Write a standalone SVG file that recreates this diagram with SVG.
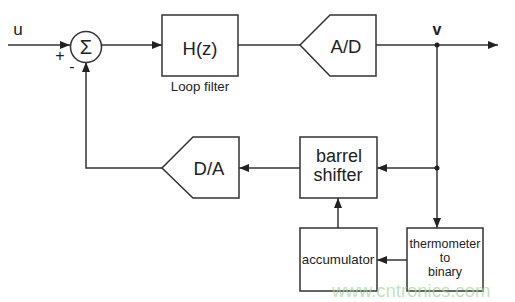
<svg xmlns="http://www.w3.org/2000/svg" width="515" height="302" viewBox="0 0 515 302">
<style>
.s{fill:#fff;stroke:#333;stroke-width:1.5}
.c{fill:none;stroke:#333;stroke-width:1.5}
text{font-family:"Liberation Sans",Arial,sans-serif;fill:#222}
.big{font-size:18.5px;text-anchor:middle}
.sm{font-size:13.3px;text-anchor:middle}
.th{font-size:12.5px;text-anchor:middle}
</style>
<defs>
<marker id="ah" viewBox="0 0 10 8" refX="10" refY="4" markerWidth="10" markerHeight="8" markerUnits="userSpaceOnUse" orient="auto">
<path d="M0,0 L10,4 L0,8 Z" fill="#222"/>
</marker>
</defs>
<rect width="515" height="302" fill="#fff"/>
<g id="connectors">
<path class="c" d="M8,45 H70" marker-end="url(#ah)"/>
<path class="c" d="M102,45 H162" marker-end="url(#ah)"/>
<path class="c" d="M238,45 H300"/>
<path class="c" d="M376,45 H498" marker-end="url(#ah)"/>
<path class="c" d="M437,45 V228" marker-end="url(#ah)"/>
<path class="c" d="M437,168 H377" marker-end="url(#ah)"/>
<path class="c" d="M300,168 H239" marker-end="url(#ah)"/>
<path class="c" d="M162,168 H86 V62" marker-end="url(#ah)"/>
<path class="c" d="M407,260 H377" marker-end="url(#ah)"/>
<path class="c" d="M338,228 V198" marker-end="url(#ah)"/>
<circle cx="437" cy="45" r="2.5" fill="#222"/>
<circle cx="437" cy="168" r="2.5" fill="#222"/>
</g>
<g id="u"><text x="18" y="35" style="font-size:17px;text-anchor:middle">u</text></g>
<g id="sum">
<circle class="s" cx="86" cy="47" r="15.5"/>
<text x="86" y="54" class="big" style="font-size:20px">Σ</text>
<text x="60" y="61" style="font-size:16px;text-anchor:middle">+</text>
<text x="72" y="72" style="font-size:16px;text-anchor:middle">-</text>
</g>
<g id="hz">
<rect class="s" x="162" y="15" width="76" height="61"/>
<text x="200" y="55" class="big">H(z)</text>
<text x="200" y="91" class="sm">Loop filter</text>
</g>
<g id="ad">
<path class="s" d="M300,45 L330,15 H376 V76 H330 Z"/>
<text x="346" y="53" class="big">A/D</text>
</g>
<g id="v"><text x="437" y="35" style="font-size:16px;text-anchor:middle;font-weight:bold">v</text></g>
<g id="barrel">
<rect class="s" x="300" y="137" width="77" height="61"/>
<text x="339" y="162" class="big" style="font-size:18px">barrel</text>
<text x="338" y="181" class="big" style="font-size:18px">shifter</text>
</g>
<g id="da">
<path class="s" d="M162,168 L193,137 H239 V198 H193 Z"/>
<text x="209" y="175" class="big">D/A</text>
</g>
<g id="acc">
<rect class="s" x="300" y="228" width="77" height="63"/>
<text x="338" y="264" class="sm">accumulator</text>
</g>
<g id="therm">
<rect class="s" x="407" y="228" width="76" height="63"/>
<text x="445" y="248" class="th">thermometer</text>
<text x="445" y="262" class="th">to</text>
<text x="445" y="276" class="th">binary</text>
</g>
<g id="watermark">
<text x="332" y="297" style="font-size:18.5px;fill:#a3d69c;fill-opacity:0.7">www.cntronics.com</text>
</g>
</svg>
